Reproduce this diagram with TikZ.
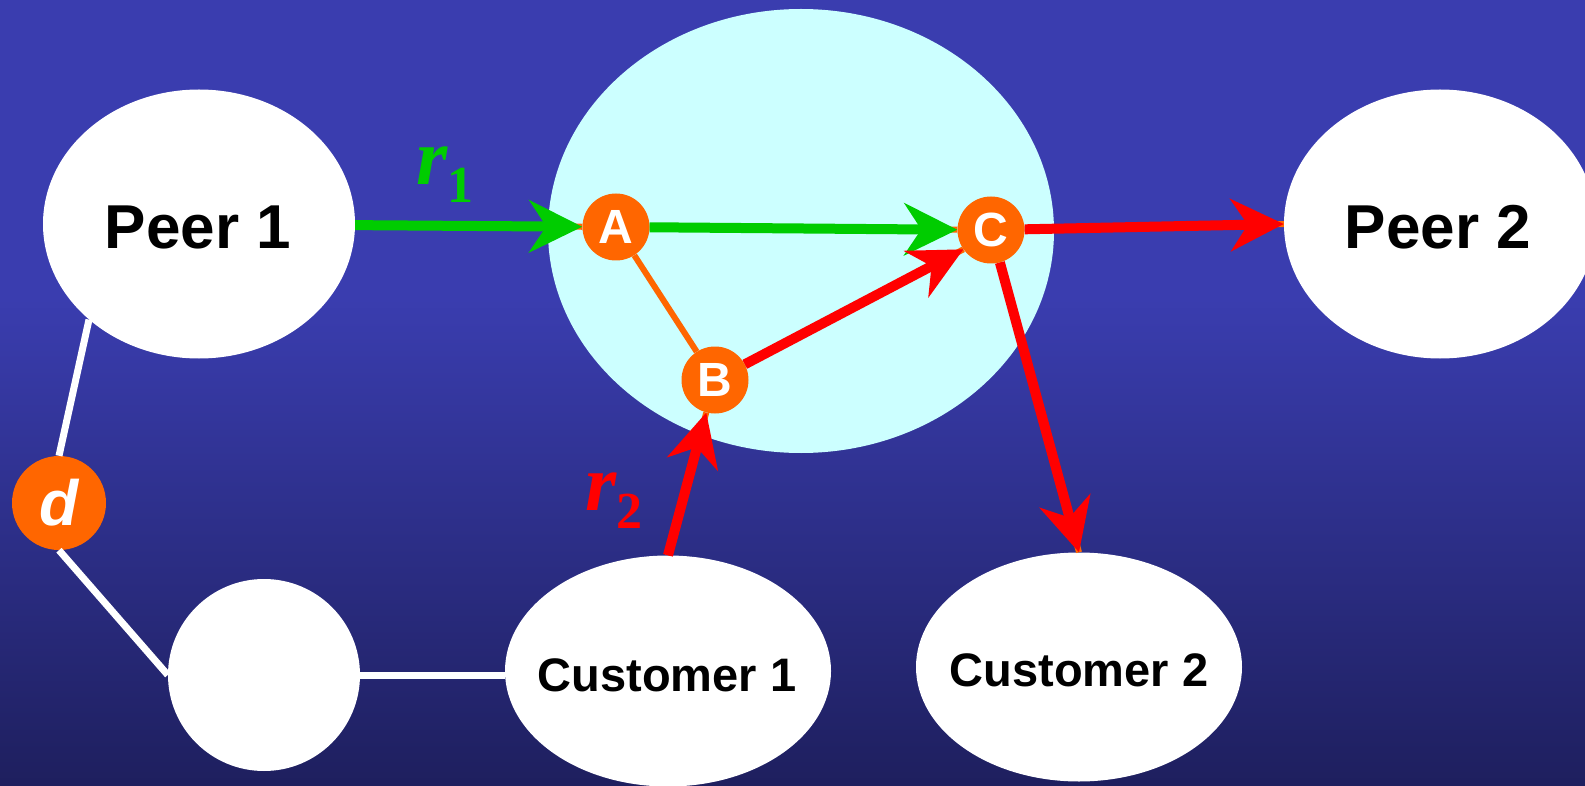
\documentclass[tikz,border=0pt]{standalone}
\usepackage{fontspec}
\setmainfont{Liberation Serif}
\setsansfont{Liberation Sans}
\usetikzlibrary{shapes.geometric,arrows.meta}
\definecolor{bgtop}{RGB}{58,61,175}
\definecolor{bgbot}{RGB}{30,31,94}
\definecolor{cloudc}{RGB}{204,255,255}
\definecolor{rtr}{RGB}{255,102,0}
\definecolor{grn}{RGB}{0,204,0}
\definecolor{rd}{RGB}{255,0,0}
\begin{document}
\begin{tikzpicture}[x=1pt,y=-1pt,
  asnode/.style={ellipse, fill=white, inner sep=0pt},
  astext/.style={inner sep=0pt, font=\sffamily\bfseries\fontsize{62}{62}\selectfont},
  custtext/.style={inner sep=0pt, font=\sffamily\bfseries\fontsize{47}{47}\selectfont},
  router/.style={circle, fill=rtr, inner sep=0pt, minimum size=67pt, text=white, font=\sffamily\bfseries\fontsize{48}{48}\selectfont},
  link/.style={white, line width=7pt},
  phys/.style={rtr, line width=6pt},
  route/.style={line width=10pt, -{Stealth[length=53pt,width=52pt,inset=17pt]}},
  lbl/.style={inner sep=0pt, anchor=base west},
]
\useasboundingbox (0,0) rectangle (1585,786);
\fill[bgtop] (0,0) rectangle (1585,300);
\shade[top color=bgtop, bottom color=bgbot] (0,299) rectangle (1585,786);

\node[ellipse, fill=cloudc, inner sep=0pt, minimum width=506pt, minimum height=444pt] (cl) at (801,231) {};
\node[asnode, minimum width=312pt, minimum height=269pt] (p1) at (199,224) {};
\node[astext] (p1t) at (198,227) {Peer 1};
\node[asnode, minimum width=312pt, minimum height=269pt] (p2) at (1440,224) {};
\node[astext] (p2t) at (1438,227) {Peer 2};
\node[asnode, minimum width=326pt, minimum height=231pt] (c1) at (668,671) {};
\node[custtext] (c1t) at (667,675) {Customer 1};
\node[asnode, minimum width=326pt, minimum height=229pt] (c2) at (1079,667) {};
\node[custtext] (c2t) at (1079,670) {Customer 2};
\node[circle, fill=white, inner sep=0pt, minimum size=192pt] (bl) at (264,675) {};

\node[router] (A) at (616,227) {A};
\node[router] (B) at (715,380) {B};
\node[router] (C) at (991,230) {C};
\node[router, minimum size=94pt, font=\sffamily\bfseries\itshape\fontsize{64}{64}\selectfont] (d) at (59,503) {d};

\draw[link] (p1.221) -- (d.north);
\draw[link] (d.south) -- (bl.west);
\draw[link] (bl.east) -- (bl.east -| c1.west);

\draw[phys] (p1) -- (A);
\draw[phys] (A) -- (C);
\draw[phys] (A) -- (B);
\draw[phys] (B) -- (C.215);
\draw[phys] (C) -- (p2.west);
\draw[phys] (C) -- (c2.north);
\draw[phys] (c1.north) -- (B);

\draw[route, grn] (p1) -- (A);
\draw[route, grn] (A) -- (C);
\draw[route, rd] (B) -- (C.215);
\draw[route, rd] (C) -- (p2.west);
\draw[route, rd] (C) -- (c2.north);
\draw[route, rd] (c1.north) -- (B);

\node[lbl, text=grn] (r1) at (416,185) {{\fontsize{80}{80}\selectfont\bfseries\itshape r}\raisebox{-18pt}{\fontsize{52}{52}\selectfont\bfseries 1}};
\node[lbl, text=rd] (r2) at (585,510) {{\fontsize{80}{80}\selectfont\bfseries\itshape r}\raisebox{-18pt}{\fontsize{52}{52}\selectfont\bfseries 2}};
\end{tikzpicture}
\end{document}
